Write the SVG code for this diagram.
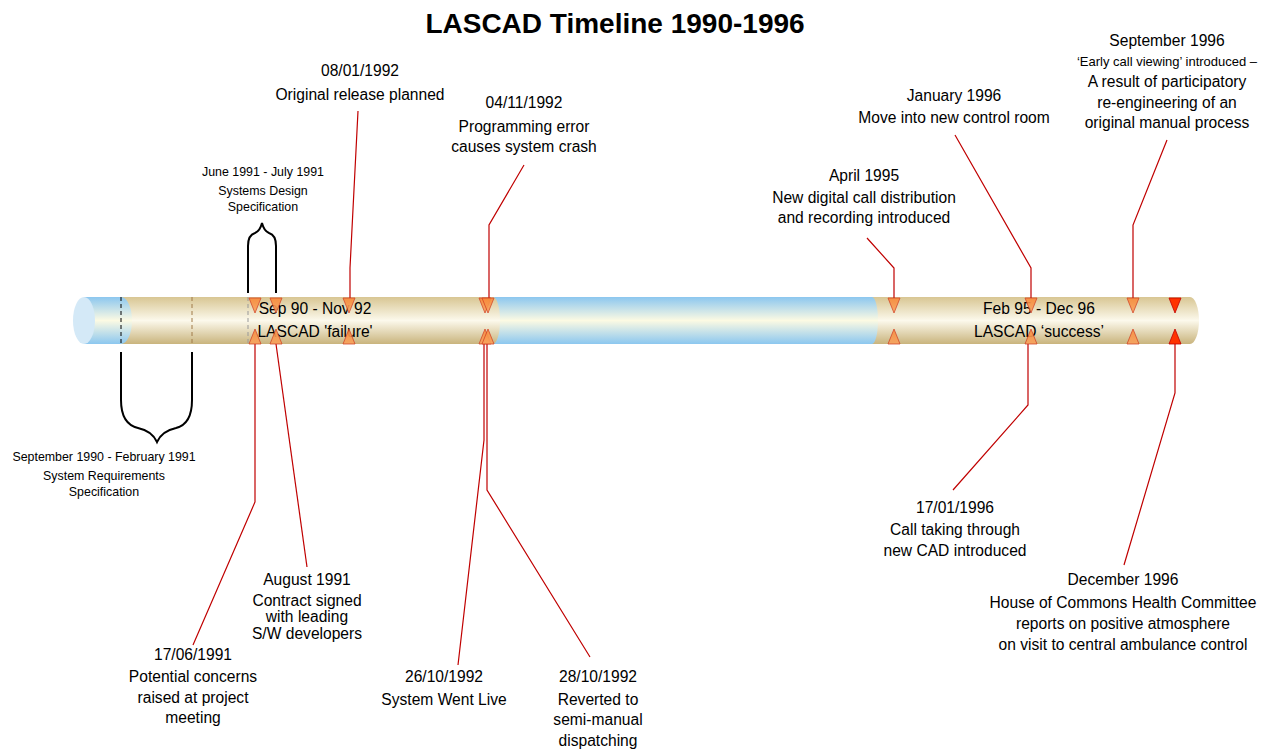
<svg xmlns="http://www.w3.org/2000/svg" width="1280" height="751" viewBox="0 0 1280 751">
<defs>
<linearGradient id="tan" x1="0" y1="0" x2="0" y2="1">
<stop offset="0" stop-color="#d8c693"/>
<stop offset="0.5" stop-color="#fcf9ec"/>
<stop offset="1" stop-color="#c9b47d"/>
</linearGradient>
<linearGradient id="blue" x1="0" y1="0" x2="0" y2="1">
<stop offset="0" stop-color="#8cc7ef"/>
<stop offset="0.5" stop-color="#fcfae3"/>
<stop offset="1" stop-color="#8cc7ef"/>
</linearGradient>
<linearGradient id="tri" x1="0" y1="0" x2="0" y2="1">
<stop offset="0" stop-color="#f88a3a"/>
<stop offset="1" stop-color="#f9a460"/>
</linearGradient>
</defs>
<style>
text{font-family:"Liberation Sans",Arial,sans-serif;fill:#000;text-anchor:middle}
.t{font-size:15.6px}
.s{font-size:12.4px}
.title{font-size:28px;font-weight:bold}
.c{fill:none;stroke:#c00000;stroke-width:1.2}
.tri{fill:url(#tri);stroke:#d23a1e;stroke-width:0.8;opacity:0.9}
.trir{fill:#ff3300;stroke:#c00000;stroke-width:0.8}
.brace{fill:none;stroke:#000;stroke-width:2}
</style>
<text class="title" x="615" y="33">LASCAD Timeline 1990-1996</text>

<g id="tube">
<path d="M872,297 H1190 A9,23.5 0 0 1 1190,344 H872 Z" fill="url(#tan)"/>
<path d="M480,297 H872 A6,23.5 0 0 1 872,344 H480 Z" fill="url(#blue)"/>
<path d="M121,297 H493 A7,23.5 0 0 1 493,344 H121 Z" fill="url(#tan)"/>
<path d="M84,297 H121 A11,23.5 0 0 1 121,344 H84 Z" fill="url(#blue)"/>
<ellipse cx="84" cy="320.5" rx="11" ry="23.5" fill="#d4e9f7"/>
<line x1="121" y1="297" x2="121" y2="344" stroke="#000" stroke-width="1" stroke-dasharray="4,3"/>
<line x1="192" y1="297" x2="192" y2="344" stroke="#a07a48" stroke-width="1" stroke-dasharray="4,3"/>
<line x1="248" y1="297" x2="248" y2="344" stroke="#999" stroke-width="1" stroke-dasharray="4,3"/>
<text class="t" x="315" y="314">Sep 90 - Nov 92</text>
<text class="t" x="315" y="337">LASCAD 'failure'</text>
<text class="t" x="1039" y="314">Feb 95 - Dec 96</text>
<text class="t" x="1039" y="337">LASCAD ‘success’</text>
</g>

<g id="connectors">
<polyline class="c" points="358,111 350,268 350,298"/>
<polyline class="c" points="524,165 489,225 489,298"/>
<polyline class="c" points="867,238 894,268 894,298"/>
<polyline class="c" points="955,135 1031,268 1031,298"/>
<polyline class="c" points="1167,140 1133,225 1133,298"/>
<polyline class="c" points="193,645 255,502 255,344"/>
<polyline class="c" points="307,567 276,344"/>
<polyline class="c" points="458,665 484,440 484,344"/>
<polyline class="c" points="590,657 487,490 487,344"/>
<polyline class="c" points="953,490 1028,405 1028,344"/>
<polyline class="c" points="1124,565 1175,393 1175,344"/>
</g>

<g id="markers">
<path class="tri" d="M249,298 h12 l-6,15 z"/><path class="tri" d="M249,344 h12 l-6,-15 z"/>
<path class="tri" d="M270,298 h12 l-6,15 z"/><path class="tri" d="M270,344 h12 l-6,-15 z"/>
<path class="tri" d="M343,298 h12 l-6,15 z"/><path class="tri" d="M343,344 h12 l-6,-15 z"/>
<path class="tri" d="M479,298 h12 l-6,15 z"/><path class="tri" d="M479,344 h12 l-6,-15 z"/>
<path class="tri" d="M482,298 h12 l-6,15 z"/><path class="tri" d="M482,344 h12 l-6,-15 z"/>
<path class="tri" d="M888,298 h12 l-6,15 z"/><path class="tri" d="M888,344 h12 l-6,-15 z"/>
<path class="tri" d="M1025,298 h12 l-6,15 z"/><path class="tri" d="M1025,344 h12 l-6,-15 z"/>
<path class="tri" d="M1127,298 h12 l-6,15 z"/><path class="tri" d="M1127,344 h12 l-6,-15 z"/>
<path class="trir" d="M1169,298 h12 l-6,15 z"/><path class="trir" d="M1169,344 h12 l-6,-15 z"/>
</g>

<g id="brace-srs">
<path class="brace" d="M121,352 V400 Q121,424 138,428 Q152,431 157,442 Q162,431 176,428 Q192,424 192,400 V352"/>
<text class="s" x="104" y="461">September 1990 - February 1991</text>
<text class="s" x="104" y="480">System Requirements</text>
<text class="s" x="104" y="496">Specification</text>
</g>

<g id="brace-sds">
<path class="brace" d="M248,293 V246 Q248,235 255,233 Q260,231 262,223 Q264,231 269,233 Q276,235 276,246 V293"/>
<text class="s" x="263" y="176">June 1991 - July 1991</text>
<text class="s" x="263" y="195">Systems Design</text>
<text class="s" x="263" y="211">Specification</text>
</g>

<g id="n-080192">
<text class="t" x="360" y="76">08/01/1992</text>
<text class="t" x="360" y="100">Original release planned</text>
</g>
<g id="n-041192">
<text class="t" x="524" y="108">04/11/1992</text>
<text class="t" x="524" y="132">Programming error</text>
<text class="t" x="524" y="152">causes system crash</text>
</g>
<g id="n-apr95">
<text class="t" x="864" y="181">April 1995</text>
<text class="t" x="864" y="203">New digital call distribution</text>
<text class="t" x="864" y="223">and recording introduced</text>
</g>
<g id="n-jan96">
<text class="t" x="954" y="101">January 1996</text>
<text class="t" x="954" y="123">Move into new control room</text>
</g>
<g id="n-sep96">
<text class="t" x="1167" y="46">September 1996</text>
<text style="font-size:13px" x="1167" y="66">‘Early call viewing’ introduced –</text>
<text class="t" x="1167" y="87">A result of participatory</text>
<text class="t" x="1167" y="108">re-engineering of an</text>
<text class="t" x="1167" y="128">original manual process</text>
</g>
<g id="n-170691">
<text class="t" x="193" y="660">17/06/1991</text>
<text class="t" x="193" y="682">Potential concerns</text>
<text class="t" x="193" y="703">raised at project</text>
<text class="t" x="193" y="723">meeting</text>
</g>
<g id="n-aug91">
<text class="t" x="307" y="585">August 1991</text>
<text class="t" x="307" y="606">Contract signed</text>
<text class="t" x="307" y="622">with leading</text>
<text class="t" x="307" y="639">S/W developers</text>
</g>
<g id="n-261092">
<text class="t" x="444" y="682">26/10/1992</text>
<text class="t" x="444" y="705">System Went Live</text>
</g>
<g id="n-281092">
<text class="t" x="598" y="682">28/10/1992</text>
<text class="t" x="598" y="705">Reverted to</text>
<text class="t" x="598" y="725">semi-manual</text>
<text class="t" x="598" y="746">dispatching</text>
</g>
<g id="n-170196">
<text class="t" x="955" y="513">17/01/1996</text>
<text class="t" x="955" y="535">Call taking through</text>
<text class="t" x="955" y="556">new CAD introduced</text>
</g>
<g id="n-dec96">
<text class="t" x="1123" y="585">December 1996</text>
<text class="t" x="1123" y="608">House of Commons Health Committee</text>
<text class="t" x="1123" y="629">reports on positive atmosphere</text>
<text class="t" x="1123" y="650">on visit to central ambulance control</text>
</g>
</svg>
